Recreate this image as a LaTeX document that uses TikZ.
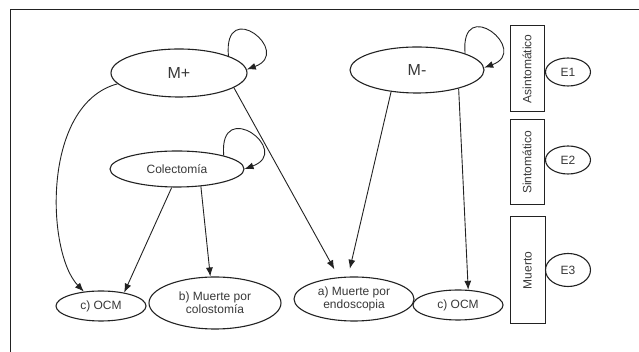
\documentclass[tikz,border=0pt]{standalone}
\usepackage{fontspec}
\setmainfont{Liberation Sans}
\usetikzlibrary{shapes.geometric, arrows.meta}
\definecolor{ink}{HTML}{222222}
\tikzset{
  >={Latex[length=9pt,width=7pt]},
  state/.style={ellipse, draw=ink, line width=1.1pt, inner sep=0pt,
    text=ink!90, align=center, font=\fontsize{12}{13}\selectfont},
  bigstate/.style={state, font=\fontsize{16}{18}\selectfont},
  phase/.style={rectangle, draw=ink, line width=1pt, inner sep=0pt,
    rotate=90, text=ink!90, font=\fontsize{12}{13}\selectfont},
}

\begin{document}
\begin{tikzpicture}[x=1pt, y=1pt]
		\useasboundingbox (0,0) rectangle (639,352);
		\draw[ink, line width=1pt] (10,0) |- (639,342);

		% states
		\node[bigstate, minimum width=136, minimum height=48] (mplus) at (179,279) {M+};
		\node[bigstate, minimum width=134, minimum height=46] (mminus) at (417,282) {M-};
		\node[state, minimum width=134, minimum height=36] (colect) at (177,183) {Colectomía};
		\node[state, minimum width=90, minimum height=30] (ocmL) at (101,46) {c) OCM};
		\node[state, minimum width=132, minimum height=52] (colost) at (215,49) {b) Muerte por\\colostomía};
		\node[state, minimum width=120, minimum height=44] (endosc) at (354,53) {a) Muerte por\\endoscopia};
		\node[state, minimum width=90, minimum height=30] (ocmR) at (458,47) {c) OCM};

		% phases
		\node[phase, minimum width=86, minimum height=34] (asint) at (527,283) {Asintomático};
		\node[phase, minimum width=85, minimum height=34] (sint) at (527,189.5) {Sintomático};
		\node[phase, minimum width=107, minimum height=35] (muert) at (527.5,81.5) {Muerto};
		\node[state, minimum width=45, minimum height=28] (e1) at (568,280) {E1};
		\node[state, minimum width=45, minimum height=28] (e2) at (568,192) {E2};
		\node[state, minimum width=45, minimum height=33] (e3) at (568,82) {E3};

		% transitions
		\path[ink, line width=0.9pt, every edge/.append style={->}]
		(mplus.19) edge[out=95, in=20, out distance=60pt, in distance=50pt] (mplus.3)
		(mminus.19) edge[out=95, in=20, out distance=60pt, in distance=50pt] (mminus.2)
		(colect.16) edge[out=95, in=20, out distance=60pt, in distance=52pt] (colect.0)
		(mplus.190) edge[out=195, in=134, out distance=79pt, in distance=54pt] (ocmL.140)
		(colect.254) edge (ocmL.30)
		(colect.-36) edge (colost.100)
		(mplus.-15) edge[shorten >=9pt] (endosc.125)
		(mminus.220) edge[shorten >=8pt] (endosc.105)
		(mminus.-24) edge (ocmR.56);

	\end{tikzpicture}
\end{document}
